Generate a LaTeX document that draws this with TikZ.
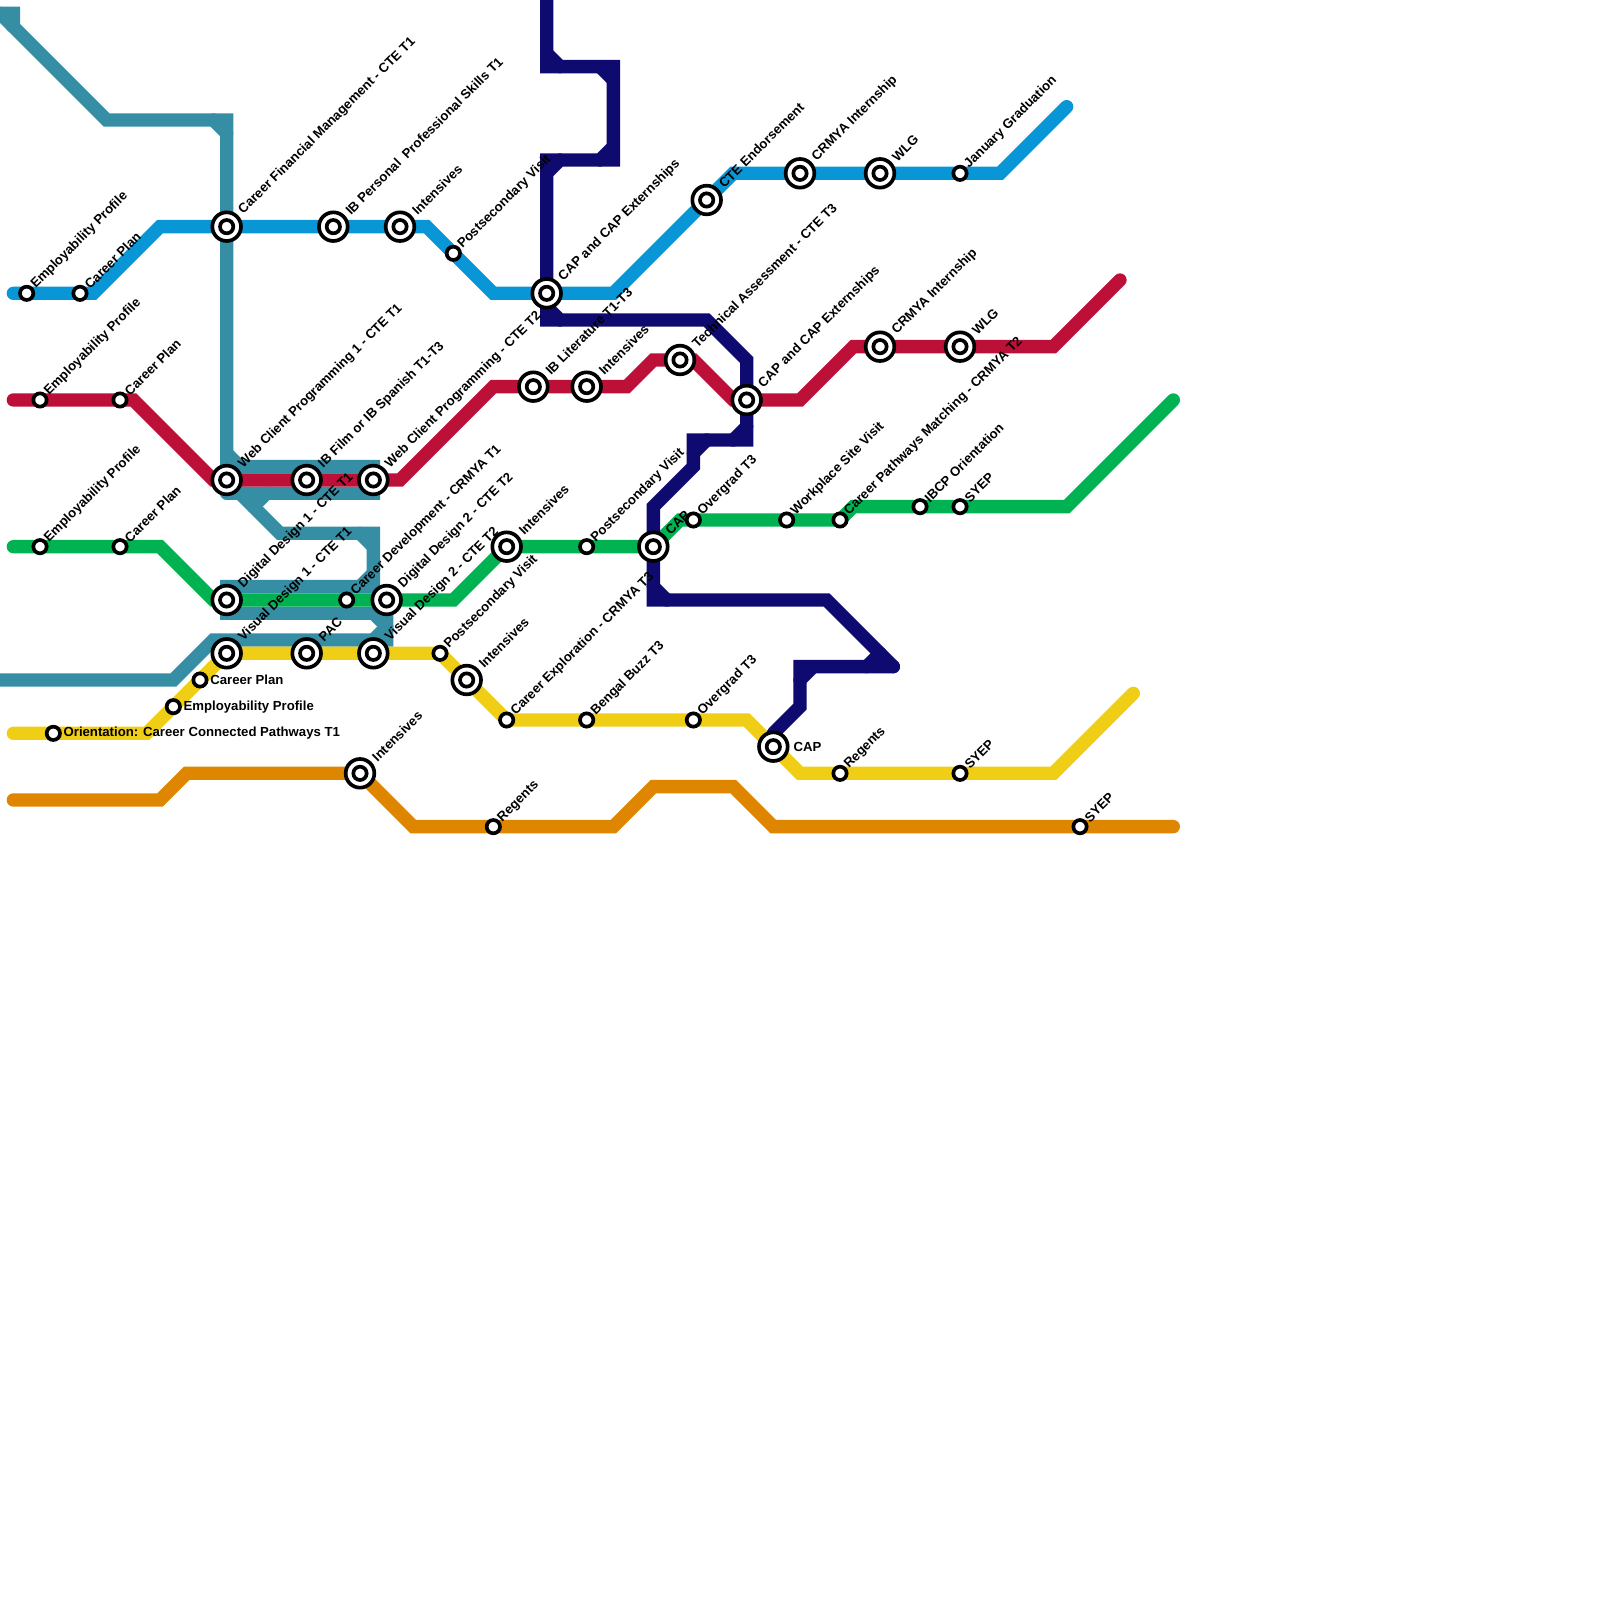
\documentclass[tikz,border=0pt]{standalone}
\usepackage{fontspec}
\newfontfamily\stnfont{Liberation Sans}[Ligatures=NoCommon]
\definecolor{mapteal}{HTML}{358EA4}
\definecolor{mapblue}{HTML}{0896D7}
\definecolor{mapred}{HTML}{BD1038}
\definecolor{mapgreen}{HTML}{00B251}
\definecolor{mapyellow}{HTML}{F0CE15}
\definecolor{maporange}{HTML}{DF8600}
\definecolor{mapnavy}{HTML}{0F0A6F}
\tikzset{
  rail/.style={line width=2mm,line cap=round,line join=miter},
  stnsmall/.style={circle,draw=black,fill=white,line width=0.55mm,minimum size=2mm},
  stnbig/.style={stnsmall,minimum size=4.3mm,path picture={\draw [black,line width=0.55mm] (path picture bounding box.center) circle (1mm);}},
  uptext/.style={rotate=45,anchor=west,inner xsep=0.1mm,font=\stnfont\bfseries\fontsize{5.62pt}{6pt}\selectfont},
  bigtext/.style={uptext,inner xsep=0.55mm},
  sidetext/.style={anchor=west,inner xsep=0.2mm,font=\stnfont\bfseries\fontsize{5.62pt}{6pt}\selectfont}
}
\begin{document}
\begin{tikzpicture}[scale=0.2]
\tikzstyle{every node}+=[inner sep=0pt]
\useasboundingbox (0,0) rectangle (120,-120);
\coordinate (t0) at (0,-1); \coordinate (t1) at (1,-1); \coordinate (t2) at (1,-2); \coordinate (t3) at (8,-9);
\coordinate (t4) at (17,-9); \coordinate (t5) at (17,-35); \coordinate (t6) at (28,-35); \coordinate (t7) at (28,-37);
\coordinate (t8) at (17,-37); \coordinate (t9) at (17,-36); \coordinate (t10) at (21,-40); \coordinate (t11) at (28,-40);
\coordinate (t12) at (28,-44); \coordinate (t13) at (17,-44); \coordinate (t14) at (17,-46); \coordinate (t15) at (29,-46);
\coordinate (t16) at (29,-48); \coordinate (t17) at (16,-48); \coordinate (t18) at (13,-51); \coordinate (t19) at (0,-51);
\draw [rail,mapteal] (t0) -- (t1) -- (t2) -- (t3) -- (t4) -- (t5) -- (t6) -- (t7) -- (t8);
\draw [rail,mapteal] (t0) -- (t2);
\draw [rail,mapteal] (t9) -- (t10) -- (t11) -- (t12) -- (t13) -- (t14) -- (t15) -- (t16) -- (t17) -- (t18) -- (t19);
\draw [rail,mapteal] ([shift={(-1,0)}]t4) -- ([shift={(0,-1)}]t4);
\draw [rail,mapteal] ([shift={(0,1)}]t5) -- ([shift={(1,0)}]t5);
\draw [rail,mapteal] ([shift={(-8,0)}]t7) -- ([shift={(-9,-1)}]t7);
\draw [rail,mapteal] ([shift={(-1,0)}]t11) -- ([shift={(0,-1)}]t11);
\draw [rail,mapteal] ([shift={(0,1)}]t12) -- ([shift={(-1,0)}]t12);
\draw [rail,mapteal] ([shift={(-1,0)}]t15) -- ([shift={(0,-1)}]t15);
\draw [rail,mapteal] ([shift={(0,-1)}]t15) -- ([shift={(-1,0)}]t16);
\coordinate (b0) at (1,-22); \coordinate (b1) at (7,-22); \coordinate (b2) at (12,-17); \coordinate (b3) at (32,-17);
\coordinate (b4) at (37,-22); \coordinate (b5) at (46,-22); \coordinate (b6) at (55,-13); \coordinate (b7) at (75,-13);
\coordinate (b8) at (80,-8);
\draw [rail,mapblue] (b0) -- (b1) -- (b2) -- (b3) -- (b4) -- (b5) -- (b6) -- (b7) -- (b8);
\coordinate (r0) at (1,-30); \coordinate (r1) at (10,-30); \coordinate (r2) at (16,-36); \coordinate (r3) at (30,-36);
\coordinate (r4) at (37,-29); \coordinate (r5) at (47,-29); \coordinate (r6) at (49,-27); \coordinate (r7) at (52,-27);
\coordinate (r8) at (55,-30); \coordinate (r9) at (60,-30); \coordinate (r10) at (64,-26); \coordinate (r11) at (79,-26);
\coordinate (r12) at (84,-21);
\draw [rail,mapred] (r0) -- (r1) -- (r2) -- (r3) -- (r4) -- (r5) -- (r6) -- (r7) -- (r8) -- (r9) -- (r10) -- (r11) -- (r12);
\coordinate (g0) at (1,-41); \coordinate (g1) at (12,-41); \coordinate (g2) at (16,-45); \coordinate (g3) at (34,-45);
\coordinate (g4) at (38,-41); \coordinate (g5) at (49,-41); \coordinate (g6) at (51,-39); \coordinate (g7) at (63,-39);
\coordinate (g8) at (64,-38); \coordinate (g9) at (80,-38); \coordinate (g10) at (88,-30);
\draw [rail,mapgreen] (g0) -- (g1) -- (g2) -- (g3) -- (g4) -- (g5) -- (g6) -- (g7) -- (g8) -- (g9) -- (g10);
\coordinate (y0) at (1,-55); \coordinate (y1) at (11,-55); \coordinate (y2) at (17,-49); \coordinate (y3) at (33,-49);
\coordinate (y4) at (38,-54); \coordinate (y5) at (56,-54); \coordinate (y6) at (60,-58); \coordinate (y7) at (79,-58);
\coordinate (y8) at (85,-52);
\draw [rail,mapyellow] (y0) -- (y1) -- (y2) -- (y3) -- (y4) -- (y5) -- (y6) -- (y7) -- (y8);
\coordinate (o0) at (1,-60); \coordinate (o1) at (12,-60); \coordinate (o2) at (14,-58); \coordinate (o3) at (27,-58);
\coordinate (o4) at (31,-62); \coordinate (o5) at (46,-62); \coordinate (o6) at (49,-59); \coordinate (o7) at (55,-59);
\coordinate (o8) at (58,-62); \coordinate (o9) at (88,-62);
\draw [rail,maporange] (o0) -- (o1) -- (o2) -- (o3) -- (o4) -- (o5) -- (o6) -- (o7) -- (o8) -- (o9);
\coordinate (n0) at (41,0); \coordinate (n1) at (41,-5); \coordinate (n2) at (46,-5); \coordinate (n3) at (46,-12);
\coordinate (n4) at (41,-12); \coordinate (n5) at (41,-24); \coordinate (n6) at (53,-24); \coordinate (n7) at (56,-27);
\coordinate (n8) at (56,-33); \coordinate (n9) at (52,-33); \coordinate (n10) at (52,-35); \coordinate (n11) at (49,-38);
\coordinate (n12) at (49,-45); \coordinate (n13) at (62,-45); \coordinate (n14) at (67,-50); \coordinate (n15) at (60,-50);
\coordinate (n16) at (60,-53); \coordinate (n17) at (58,-55);
\draw [rail,mapnavy] (n0) -- (n1) -- (n2) -- (n3) -- (n4) -- (n5) -- (n6) -- (n7) -- (n8) -- (n9) -- (n10) -- (n11) -- (n12) -- (n13) -- (n14);
\draw [rail,mapnavy] (n14) -- (n15) -- (n16) -- (n17);
\draw [rail,mapnavy] ([shift={(0,1)}]n1) -- ([shift={(1,0)}]n1);
\draw [rail,mapnavy] ([shift={(-1,0)}]n2) -- ([shift={(0,-1)}]n2);
\draw [rail,mapnavy] ([shift={(0,1)}]n3) -- ([shift={(-1,0)}]n3);
\draw [rail,mapnavy] ([shift={(1,0)}]n4) -- ([shift={(0,-1)}]n4);
\draw [rail,mapnavy] ([shift={(0,1)}]n5) -- ([shift={(1,0)}]n5);
\draw [rail,mapnavy] ([shift={(0,1)}]n8) -- ([shift={(-1,0)}]n8);
\draw [rail,mapnavy] ([shift={(1,0)}]n9) -- ([shift={(0,-1)}]n9);
\draw [rail,mapnavy] ([shift={(0,1)}]n12) -- ([shift={(1,0)}]n12);
\draw [rail,mapnavy] ([shift={(-1,1)}]n14) -- ([shift={(-2,0)}]n14);
\draw [rail,mapnavy] ([shift={(1,0)}]n15) -- ([shift={(0,-1)}]n15);
\node [stnsmall,label={[uptext]45:Employability Profile}] (bep) at (2,-22) {};
\node [stnsmall,label={[uptext]45:Career Plan}] (bcp) at (6,-22) {};
\node [stnbig,label={[bigtext]45:Career Financial Management - CTE T1}] (cfm) at (17,-17) {};
\node [stnbig,label={[bigtext]45:IB Personal~ Professional Skills T1}] (ibp) at (25,-17) {};
\node [stnbig,label={[bigtext]45:Intensives}] (bint) at (30,-17) {};
\node [stnsmall,label={[uptext]45:Postsecondary Visit}] (bpv) at (34,-19) {};
\node [stnbig,label={[bigtext]45:CAP and CAP Externships}] (bcap) at (41,-22) {};
\node [stnbig,label={[bigtext]45:CTE Endorsement}] (cte) at (53,-15) {};
\node [stnbig,label={[bigtext]45:CRMYA Internship}] (bcrm) at (60,-13) {};
\node [stnbig,label={[bigtext]45:WLG}] (bwlg) at (66,-13) {};
\node [stnsmall,label={[uptext]45:January Graduation}] (jan) at (72,-13) {};
\node [stnsmall,label={[uptext]45:Employability Profile}] (rep) at (3,-30) {};
\node [stnsmall,label={[uptext]45:Career Plan}] (rcp) at (9,-30) {};
\node [stnbig,label={[bigtext]45:Web Client Programming 1 - CTE T1}] (web1) at (17,-36) {};
\node [stnbig,label={[bigtext]45:IB Film or IB Spanish T1-T3}] (ibf) at (23,-36) {};
\node [stnbig,label={[bigtext]45:Web Client Programming - CTE T2}] (web2) at (28,-36) {};
\node [stnbig,label={[bigtext]45:IB Literature T1-T3}] (ibl) at (40,-29) {};
\node [stnbig,label={[bigtext]45:Intensives}] (rint) at (44,-29) {};
\node [stnbig,label={[bigtext]45:Technical Assessment - CTE T3}] (tech) at (51,-27) {};
\node [stnbig,label={[bigtext]45:CAP and CAP Externships}] (rcap) at (56,-30) {};
\node [stnbig,label={[bigtext]45:CRMYA Internship}] (rcrm) at (66,-26) {};
\node [stnbig,label={[bigtext]45:WLG}] (rwlg) at (72,-26) {};
\node [stnsmall,label={[uptext]45:Employability Profile}] (gep) at (3,-41) {};
\node [stnsmall,label={[uptext]45:Career Plan}] (gcp) at (9,-41) {};
\node [stnbig,label={[bigtext]45:Digital Design 1 - CTE T1}] (dig1) at (17,-45) {};
\node [stnsmall,label={[uptext]45:Career Development - CRMYA T1}] (cdev) at (26,-45) {};
\node [stnbig,label={[bigtext]45:Digital Design 2 - CTE T2}] (dig2) at (29,-45) {};
\node [stnbig,label={[bigtext]45:Intensives}] (gint) at (38,-41) {};
\node [stnsmall,label={[uptext]45:Postsecondary Visit}] (gpv) at (44,-41) {};
\node [stnbig,label={[bigtext]45:CAP}] (gcap) at (49,-41) {};
\node [stnsmall,label={[uptext]45:Overgrad T3}] (gover) at (52,-39) {};
\node [stnsmall,label={[uptext]45:Workplace Site Visit}] (work) at (59,-39) {};
\node [stnsmall,label={[uptext]45:Career Pathways Matching - CRMYA T2}] (path) at (63,-39) {};
\node [stnsmall,label={[uptext]45:IBCP Orientation}] (ibcp) at (69,-38) {};
\node [stnsmall,label={[uptext]45:SYEP}] (gsyep) at (72,-38) {};
\node [stnsmall,label={[sidetext]0:Orientation: Career Connected Pathways T1}] (orient) at (4,-55) {};
\node [stnsmall,label={[sidetext]0:Employability Profile}] (yep) at (13,-53) {};
\node [stnsmall,label={[sidetext]0:Career Plan}] (ycp) at (15,-51) {};
\node [stnbig,label={[bigtext]45:Visual Design 1 - CTE T1}] (vis1) at (17,-49) {};
\node [stnbig,label={[bigtext]45:PAC}] (pac) at (23,-49) {};
\node [stnbig,label={[bigtext]45:Visual Design 2 - CTE T2}] (vis2) at (28,-49) {};
\node [stnsmall,label={[uptext]45:Postsecondary Visit}] (ypv) at (33,-49) {};
\node [stnbig,label={[bigtext]45:Intensives}] (yint) at (35,-51) {};
\node [stnsmall,label={[uptext]45:Career Exploration - CRMYA T3}] (explo) at (38,-54) {};
\node [stnsmall,label={[uptext]45:Bengal Buzz T3}] (buzz) at (44,-54) {};
\node [stnsmall,label={[uptext]45:Overgrad T3}] (yover) at (52,-54) {};
\node [stnbig,label={[sidetext,inner xsep=0.55mm]0:CAP}] (ycap) at (58,-56) {};
\node [stnsmall,label={[uptext]45:Regents}] (yreg) at (63,-58) {};
\node [stnsmall,label={[uptext]45:SYEP}] (ysyep) at (72,-58) {};
\node [stnbig,label={[bigtext]45:Intensives}] (oint) at (27,-58) {};
\node [stnsmall,label={[uptext]45:Regents}] (oreg) at (37,-62) {};
\node [stnsmall,label={[uptext]45:SYEP}] (osyep) at (81,-62) {};
\end{tikzpicture}
\end{document}
